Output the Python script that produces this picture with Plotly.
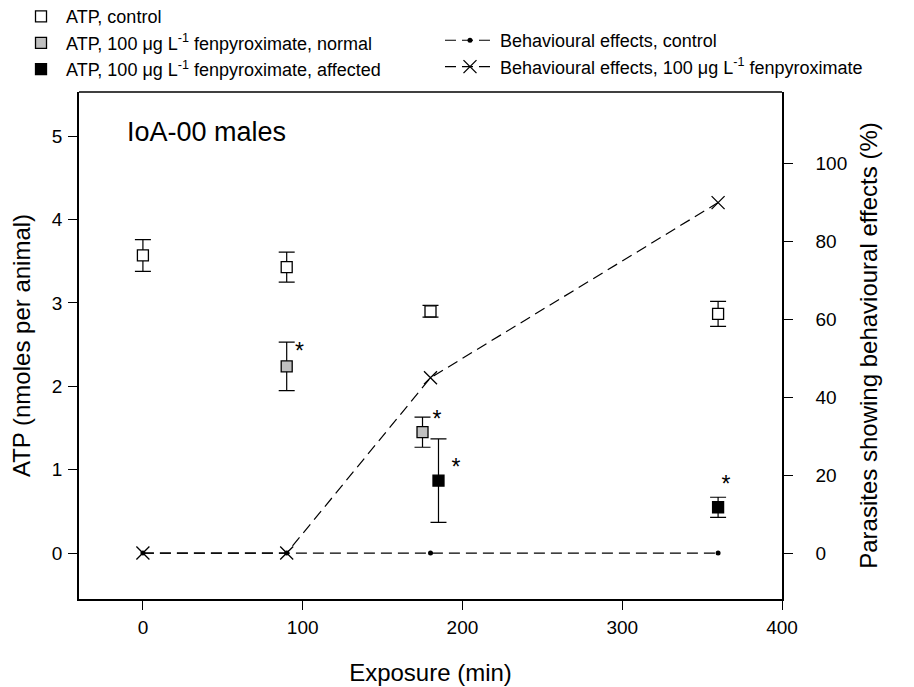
import plotly.graph_objects as go

# ATP data (left axis)
ctrl_x = [0, 90, 180, 360]
ctrl_y = [3.57, 3.43, 2.90, 2.87]
ctrl_err = [0.19, 0.18, 0.07, 0.15]

norm_x = [90, 175]
norm_y = [2.24, 1.45]
norm_err = [0.29, 0.18]

aff_x = [185, 360]
aff_y = [0.87, 0.55]
aff_err = [0.50, 0.12]

# significance asterisks (text anchor, data coords)
star_x = [98, 184, 196, 365]
star_y = [2.40, 1.58, 1.01, 0.80]

# Behavioural effects (right axis, %)
beh_x = [0, 90, 180, 360]
beh_ctrl = [0, 0, 0, 0]
beh_fen = [0, 0, 45, 90]

FONT = "Liberation Sans, Arial, sans-serif"
DASH = "11px,6px"

fig = go.Figure()

fig.add_trace(go.Scatter(
    x=beh_x, y=beh_ctrl, yaxis="y2", mode="lines+markers",
    name="Behavioural effects, control",
    line=dict(color="black", width=1.2, dash=DASH),
    marker=dict(symbol="circle", size=5, color="black"),
    legend="legend2"))
fig.add_trace(go.Scatter(
    x=beh_x, y=beh_fen, yaxis="y2", mode="lines+markers",
    name="Behavioural effects, 100 μg L<sup>-1</sup> fenpyroximate",
    line=dict(color="black", width=1.2, dash=DASH),
    marker=dict(symbol="x-thin", size=13, color="black",
                line=dict(color="black", width=1.3)),
    legend="legend2"))

err_style = dict(type="data", color="black", thickness=1.2, width=8)

fig.add_trace(go.Scatter(
    x=ctrl_x, y=ctrl_y, mode="markers", name="ATP, control",
    error_y=dict(array=ctrl_err, **err_style),
    marker=dict(symbol="square", size=11, color="white",
                line=dict(color="black", width=1.3)),
    legend="legend"))
fig.add_trace(go.Scatter(
    x=norm_x, y=norm_y, mode="markers",
    name="ATP, 100 μg L<sup>-1</sup> fenpyroximate, normal",
    error_y=dict(array=norm_err, **err_style),
    marker=dict(symbol="square", size=11, color="#c0c0c0",
                line=dict(color="black", width=1.3)),
    legend="legend"))
fig.add_trace(go.Scatter(
    x=aff_x, y=aff_y, mode="markers",
    name="ATP, 100 μg L<sup>-1</sup> fenpyroximate, affected",
    error_y=dict(array=aff_err, **err_style),
    marker=dict(symbol="square", size=11, color="black",
                line=dict(color="black", width=1.3)),
    legend="legend"))

fig.add_trace(go.Scatter(
    x=star_x, y=star_y, mode="text", text=["*"] * len(star_x),
    textfont=dict(size=23, color="black", family=FONT),
    showlegend=False, hoverinfo="skip"))

def axis_common():
    return dict(showline=True, linecolor="black", linewidth=1.5,
                ticks="outside", ticklen=9, tickwidth=1.2, tickcolor="black",
                showgrid=False, zeroline=False, automargin=False,
                tickfont=dict(size=19, family=FONT, color="black"))

fig.update_layout(
    width=914, height=687,
    margin=dict(l=71, r=140, t=84, b=96, autoexpand=False),
    paper_bgcolor="white", plot_bgcolor="white",
    font=dict(family=FONT, color="black"),
    xaxis=dict(range=[-40, 400], tickvals=[0, 100, 200, 300, 400],
               ticklabelstandoff=1,
               title=dict(text="Exposure (min)", font=dict(size=24, family=FONT), standoff=28),
               **axis_common()),
    yaxis=dict(range=[-0.55, 5.53], tickvals=[0, 1, 2, 3, 4, 5],
               ticklabelstandoff=2,
               title=dict(text="ATP (nmoles per animal)", font=dict(size=24, family=FONT), standoff=20),
               **axis_common()),
    yaxis2=dict(range=[-11.8, 118.4], tickvals=[0, 20, 40, 60, 80, 100],
                overlaying="y", side="right", ticklabelstandoff=19,
                title=dict(text="Parasites showing behavioural effects (%)",
                           font=dict(size=24, family=FONT), standoff=14),
                **axis_common()),
    legend=dict(x=-0.0896, y=1.185, xref="paper", yref="paper",
                xanchor="left", yanchor="top", orientation="v",
                font=dict(size=18, family=FONT), tracegroupgap=0,
                itemwidth=40, bgcolor="rgba(0,0,0,0)"),
    legend2=dict(x=0.5135, y=1.138, xref="paper", yref="paper",
                 xanchor="left", yanchor="top", orientation="v",
                 font=dict(size=18, family=FONT), tracegroupgap=0,
                 itemwidth=50, bgcolor="rgba(0,0,0,0)"),
    shapes=[dict(type="line", xref="paper", yref="paper", x0=0, x1=1, y0=1, y1=1,
                 line=dict(color="black", width=1.5))],
    annotations=[dict(text="IoA-00 males", x=0.0654, y=0.921, xref="paper", yref="paper",
                      xanchor="left", yanchor="middle", showarrow=False,
                      font=dict(size=27, family=FONT, color="black"))],
)

fig.write_html("out.html")
